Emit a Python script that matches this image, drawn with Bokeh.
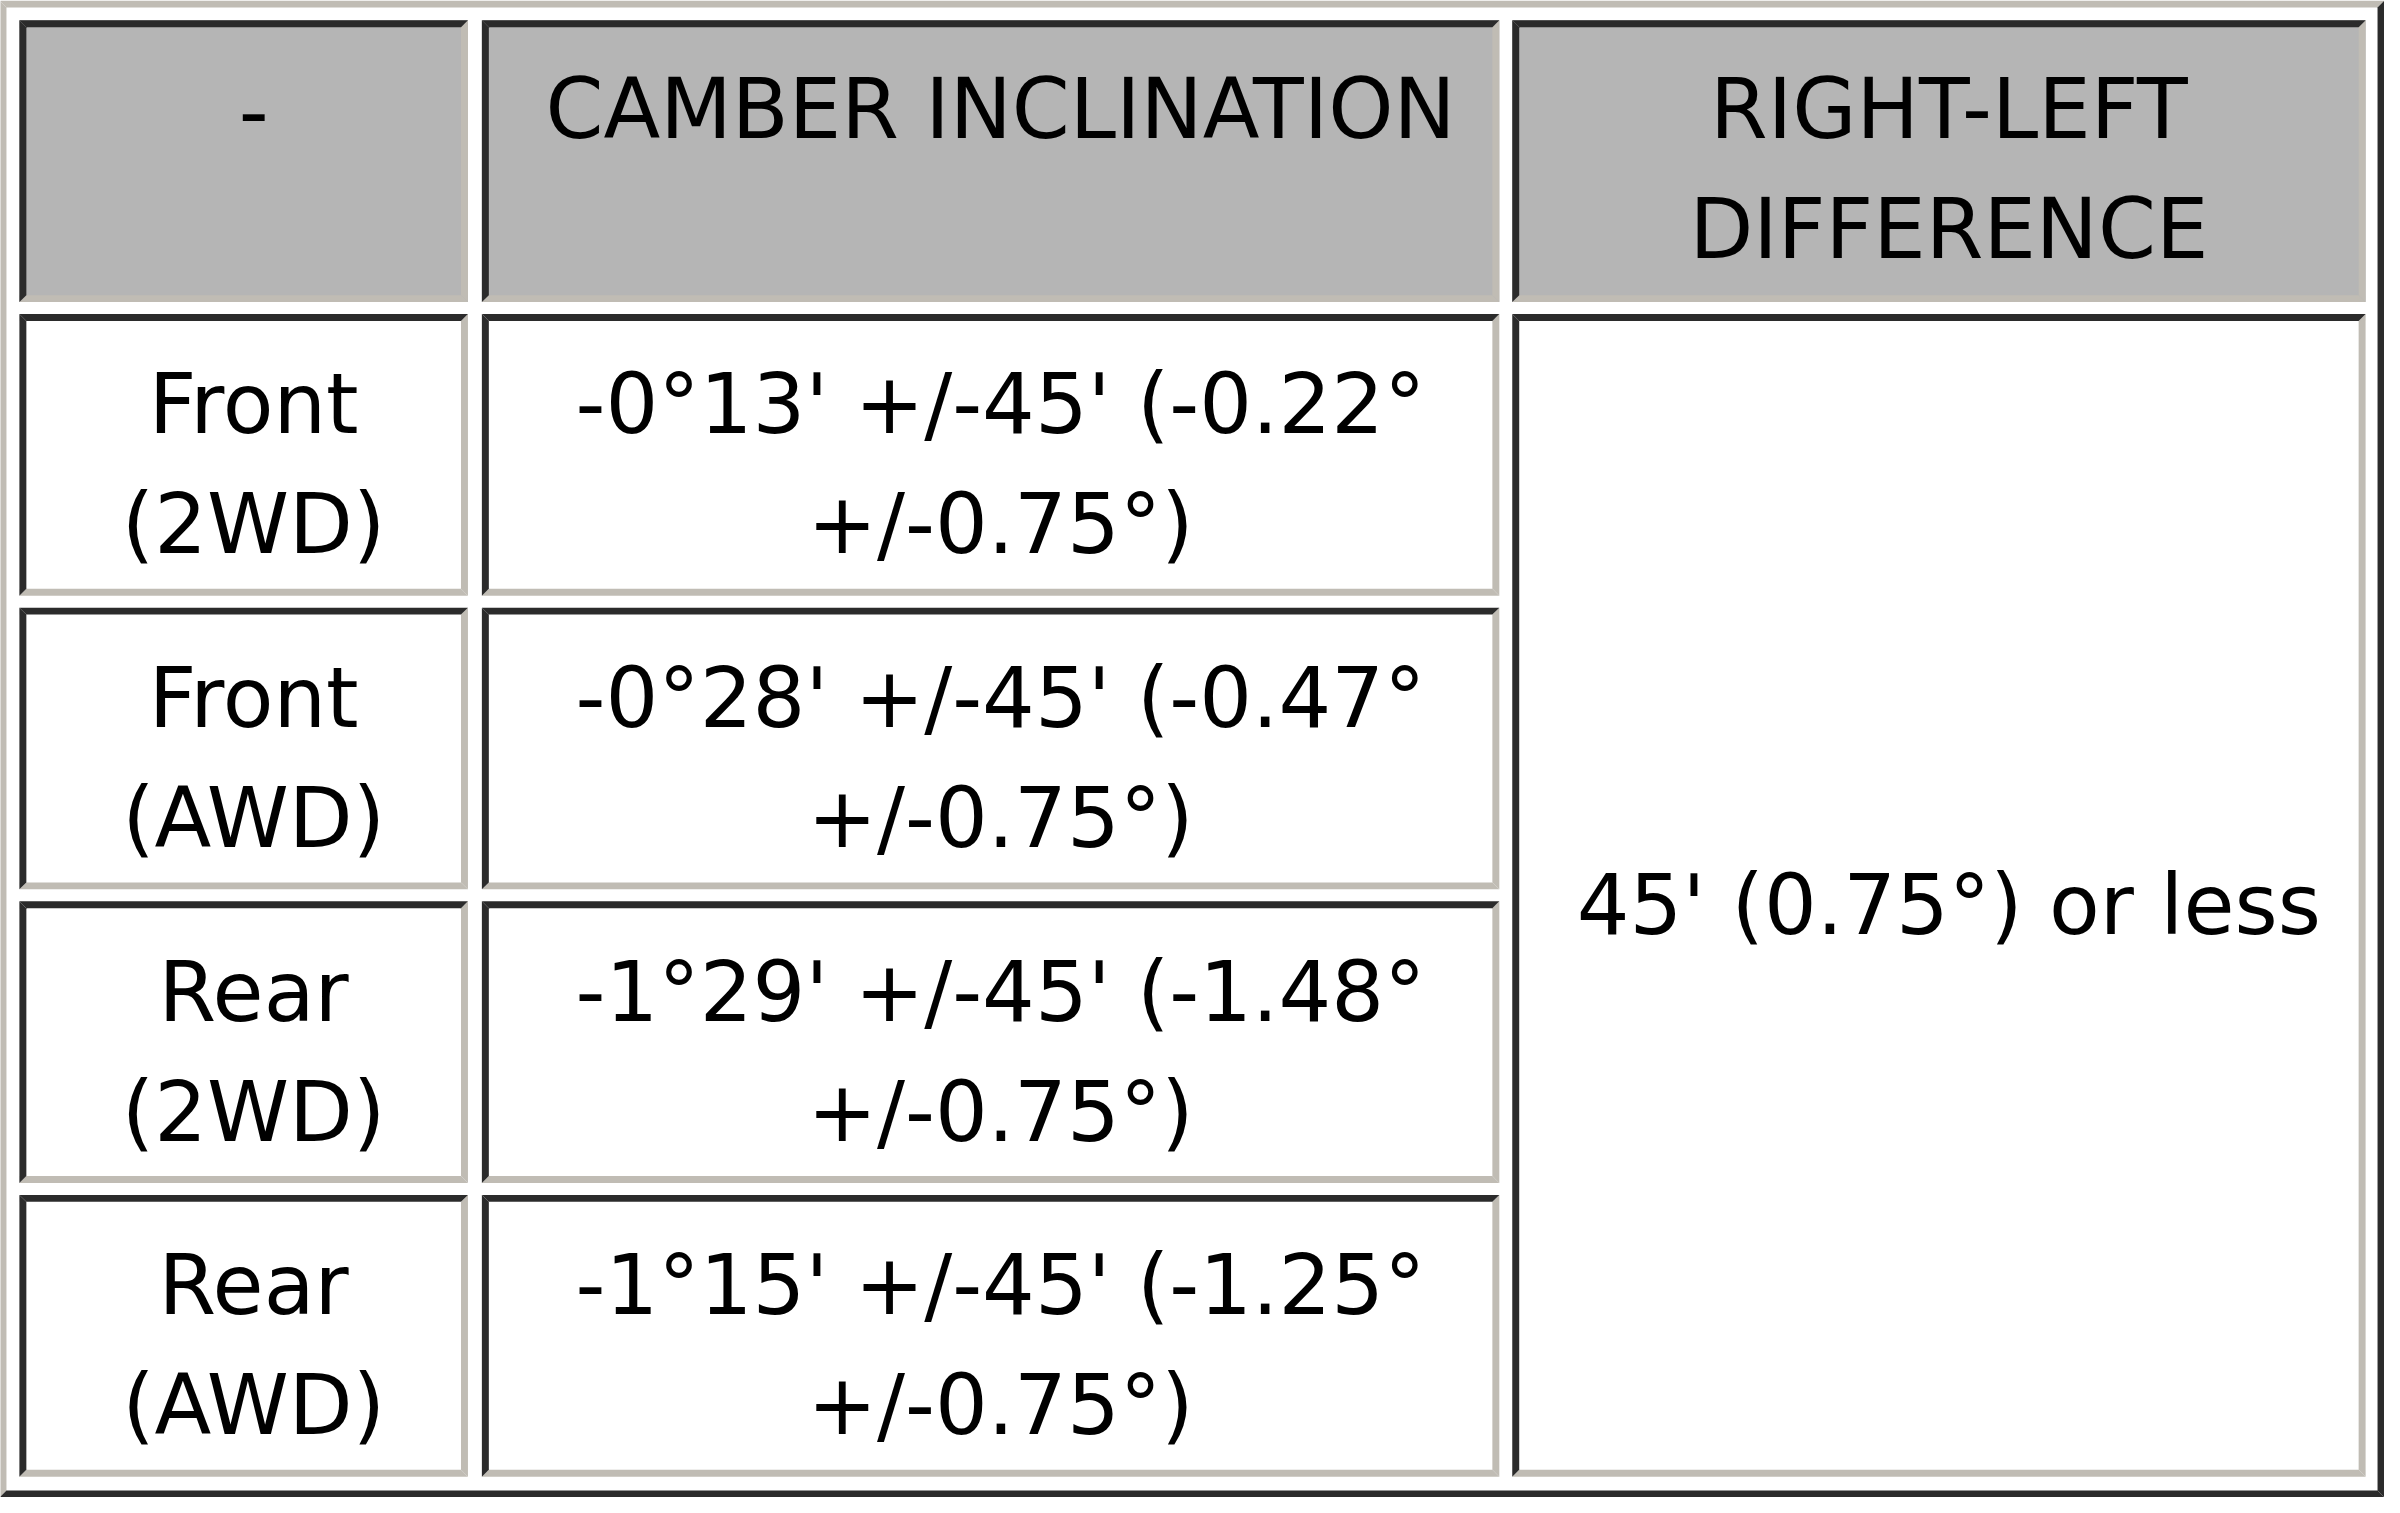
import textwrap
from bokeh.plotting import figure
from bokeh.models import Range1d
from bokeh.core.properties import value
from bokeh.embed import file_html
from bokeh.resources import INLINE

# ---------------- data ----------------
headers = ["-", "CAMBER INCLINATION", "RIGHT-LEFT DIFFERENCE"]
positions = ["Front (2WD)", "Front (AWD)", "Rear (2WD)", "Rear (AWD)"]
camber_dms = ["-0°13'", "-0°28'", "-1°29'", "-1°15'"]
camber_deg = [-0.22, -0.47, -1.48, -1.25]
tolerance_min = 45
tolerance_deg = 0.75
difference = "45' (0.75°) or less"

# ---------------- layout (reference pixel space) ----------------
col_left = [20, 485, 1521]
col_right = [471, 1508, 2379]
row_top = [24, 320, 616, 912, 1208]
row_h = 284
bw = 7                      # cell border width
wrap_chars = [6, 22, 20]    # characters per line before wrapping
line_h = 121
head_base = 90              # first header baseline below cell top
body_off = 10               # baseline offset of a text block from cell centre
font_px = "83px"
FONT = value("DejaVu Sans")

DARK = "#2b2b2b"
LIGHT = "#c0bcb4"
HEAD_FILL = "#b5b5b5"

p = figure(width=2384, height=1497, x_range=Range1d(1, 2398), y_range=Range1d(1513, 4),
           x_axis_location=None, y_axis_location=None,
           output_backend="svg", toolbar_location=None, min_border=0,
           background_fill_color="white", border_fill_color="white",
           outline_line_color=None)
p.grid.visible = False


def bevel(L, T, R, B, w, xs_tl, ys_tl, xs_br, ys_br):
    # mitred borders: top + left into one list, bottom + right into another
    xs_tl.append([L, R, R - w, L + w]); ys_tl.append([T, T, T + w, T + w])
    xs_tl.append([L, L + w, L + w, L]); ys_tl.append([T, T + w, B - w, B])
    xs_br.append([L, L + w, R - w, R]); ys_br.append([B, B - w, B - w, B])
    xs_br.append([R, R, R - w, R - w]); ys_br.append([T, B, B - w, T + w])


# outer table border (outset: light top/left, dark bottom/right)
oxs_l, oys_l, oxs_d, oys_d = [], [], [], []
bevel(0, 4, 2398, 1513, 7, oxs_l, oys_l, oxs_d, oys_d)
p.patches(oxs_l, oys_l, fill_color=LIGHT, line_color=None)
p.patches(oxs_d, oys_d, fill_color=DARK, line_color=None)


def wrap(s, n):
    return textwrap.wrap(s, n, break_on_hyphens=False) or [s]


cells = []  # (L, T, R, B, fill, lines, kind)
for j, h in enumerate(headers):
    cells.append((col_left[j], row_top[0], col_right[j], row_top[0] + row_h,
                  HEAD_FILL, wrap(h, wrap_chars[j]), "head"))
for i, pos in enumerate(positions):
    T = row_top[i + 1]
    cells.append((col_left[0], T, col_right[0], T + row_h, "white",
                  wrap(pos, wrap_chars[0]), "body"))
    camber = (f"{camber_dms[i]} +/-{tolerance_min}' ({camber_deg[i]:.2f}° "
              f"+/-{tolerance_deg:.2f}°)")
    cells.append((col_left[1], T, col_right[1], T + row_h, "white",
                  wrap(camber, wrap_chars[1]), "body"))
cells.append((col_left[2], row_top[1], col_right[2], row_top[-1] + row_h, "white",
              wrap(difference, wrap_chars[2]), "body"))

fx0, fx1, fy0, fy1, fc = [], [], [], [], []
dxs, dys, lxs, lys = [], [], [], []
tx, ty, tt = [], [], []
for (L, T, R, B, fill, lines, kind) in cells:
    fx0.append(L); fx1.append(R); fy0.append(T); fy1.append(B); fc.append(fill)
    bevel(L, T, R, B, bw, dxs, dys, lxs, lys)
    n = len(lines)
    cx = (L + R) / 2 + 10
    for k, ln in enumerate(lines):
        if kind == "head":
            y = T + head_base + k * line_h
        else:
            y = (T + B) / 2 + body_off + (k - (n - 1) / 2) * line_h
        tx.append(cx); ty.append(y); tt.append(ln)

p.quad(left=fx0, right=fx1, top=fy0, bottom=fy1, fill_color=fc, line_color=None)
p.patches(lxs, lys, fill_color=LIGHT, line_color=None)
p.patches(dxs, dys, fill_color=DARK, line_color=None)
p.text(x=tx, y=ty, text=tt, text_font=FONT, text_font_size=font_px,
       text_align="center", text_baseline="alphabetic", text_color="#000000")

open("out.html", "w").write(file_html(p, INLINE))
